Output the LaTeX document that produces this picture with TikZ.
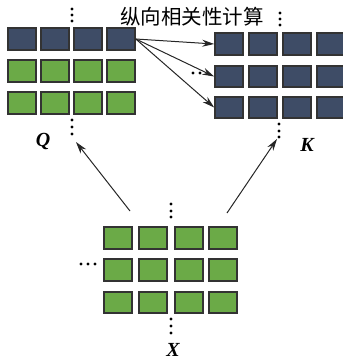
\documentclass[tikz,border=0pt]{standalone}
\usepackage{fontspec}
\newfontfamily\cjk{Noto Sans CJK SC}
\newfontfamily\lab{Liberation Serif}
\usetikzlibrary{arrows.meta}
\definecolor{navy}{HTML}{3E4C66}
\definecolor{leaf}{HTML}{6BAA47}
\definecolor{edge}{HTML}{333333}
\tikzset{
  cell/.style={draw=edge, line width=1.6pt, minimum width=28pt, minimum height=21.5pt, inner sep=0pt},
  navycell/.style={cell, fill=navy},
  greencell/.style={cell, fill=leaf},
  link/.style={draw=black!85, line width=1pt, -{Stealth[length=12pt,width=7pt]}},
  mlabel/.style={font=\lab\bfseries\itshape\fontsize{20}{20}\selectfont, inner sep=0pt},
  pt/.style={fill=black, radius=1.6pt},
}
\begin{document}
\begin{tikzpicture}[x=1pt,y=-1pt]
\useasboundingbox (0,0) rectangle (343,362);

% Q block: first row highlighted
\foreach \c [count=\i] in {22,55,88,121}{
  \node[navycell] (q1\i) at (\c,39) {};
  \node[greencell] (q2\i) at (\c,71) {};
  \node[greencell] (q3\i) at (\c,103) {};
}
% K block
\foreach \c [count=\i] in {229,263,297,331}{
  \node[navycell] (k1\i) at (\c,44) {};
  \node[navycell] (k2\i) at (\c,76.5) {};
  \node[navycell] (k3\i) at (\c,107.5) {};
}
% X block
\foreach \c [count=\i] in {118,153,189,223}{
  \node[greencell] (x1\i) at (\c,238) {};
  \node[greencell] (x2\i) at (\c,270) {};
  \node[greencell] (x3\i) at (\c,302.5) {};
}

% title and matrix names
\node[font=\cjk\fontsize{20.5}{20.5}\selectfont, inner sep=0pt] (title) at (192,17) {纵向相关性计算};
\node[mlabel] (Q) at (43,141) {Q};
\node[mlabel] (K) at (307,145) {K};
\node[mlabel] (X) at (173,350) {X};

% ellipsis dots
\foreach \y in {9,15,21}   \fill[pt] (72,\y) circle;
\foreach \y in {120,127,134} \fill[pt] (72,\y) circle;
\foreach \y in {13,19,25}  \fill[pt] (280,\y) circle;
\foreach \y in {124,131,137} \fill[pt] (279,\y) circle;
\foreach \x in {193,200}   \fill[pt] (\x,73) circle;
\foreach \y in {204,211,217} \fill[pt] (171,\y) circle;
\foreach \y in {319,326,333} \fill[pt] (171,\y) circle;
\foreach \x in {81,88,95}  \fill[pt] (\x,264) circle;

% correlation links from the first Q row to each K row
\draw[link] (q14.east) -- (k11.west);
\draw[link] (q14.east) -- (k21.west);
\draw[link] (q14.east) -- (k31.west);

% projections from X
\coordinate (xl) at (130,211);
\coordinate (xr) at (227,213);
\coordinate (qin) at (76,142);
\coordinate (kin) at (277,139);
\draw[link] (xl) -- (qin);
\draw[link] (xr) -- (kin);
\end{tikzpicture}
\end{document}
